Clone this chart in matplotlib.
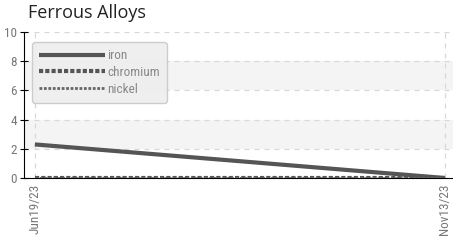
import numpy as np
import matplotlib.pyplot as plt
from datetime import datetime, timedelta

# data
dates = [datetime(2023, 6, 19), datetime(2023, 11, 13)]
date_labels = ["Jun19/23", "Nov13/23"]
iron = [2.3, 0.0]
chromium = [0.0, 0.0]
nickel = [0.0, 0.0]
yticks = [0, 2, 4, 6, 8, 10]

plt.rcParams['font.family'] = ['Roboto Condensed', 'DejaVu Sans']

fig = plt.figure(figsize=(4.53, 2.43), dpi=100)
ax = fig.add_axes([24 / 453, 1 - 178 / 243, 1 - 24 / 453, (178 - 32) / 243])

# alternate bands
for lo, hi in [(2, 4), (6, 8)]:
    ax.axhspan(lo, hi, color='#f4f4f4', zorder=0, lw=0)

ax.plot(dates, iron, color='#555555', lw=3, solid_capstyle='butt', label='iron', zorder=3)
ax.plot(dates, chromium, color='#555555', lw=3, ls=(0, (1, 0.5)), label='chromium', zorder=3)
ax.plot(dates, nickel, color='#666666', lw=2, ls=(0, (1, 0.6)), label='nickel', zorder=3)

ax.set_ylim(0, 10)
ax.set_xlim(dates[0] - timedelta(days=3.9), dates[1] + timedelta(days=2.9))
ax.set_yticks(yticks)
ax.set_xticks(dates)
ax.set_xticklabels(date_labels, rotation=90, color='#777777', fontsize=9.5)
ax.tick_params(axis='y', direction='inout', length=6, colors='black', labelcolor='#777777',
               labelsize=9.5, pad=2)
ax.tick_params(axis='x', length=0, pad=4)

ax.grid(True, color='#d8d8d8', ls=(0, (4, 4)), lw=0.9)
ax.set_axisbelow(True)
for s in ['top', 'right']:
    ax.spines[s].set_visible(False)
ax.spines['left'].set_color('black')
ax.spines['bottom'].set_color('black')

leg = ax.legend(loc='upper left', bbox_to_anchor=(8 / 429, 136 / 146), fontsize=9.5,
                handlelength=5, handletextpad=0.15, labelspacing=0.28, borderpad=0.55,
                borderaxespad=0, frameon=True, fancybox=True, labelcolor='#888888')
leg.get_frame().set_facecolor('#eeeeee')
leg.get_frame().set_edgecolor('#c8c8c8')
leg.get_frame().set_alpha(0.9)

fig.text(28 / 453, 1 - 13 / 243, "Ferrous Alloys", fontsize=13, va='center', ha='left',
         family=['Open Sans', 'DejaVu Sans'], color='#222222')

fig.savefig('out.png', dpi=100)
